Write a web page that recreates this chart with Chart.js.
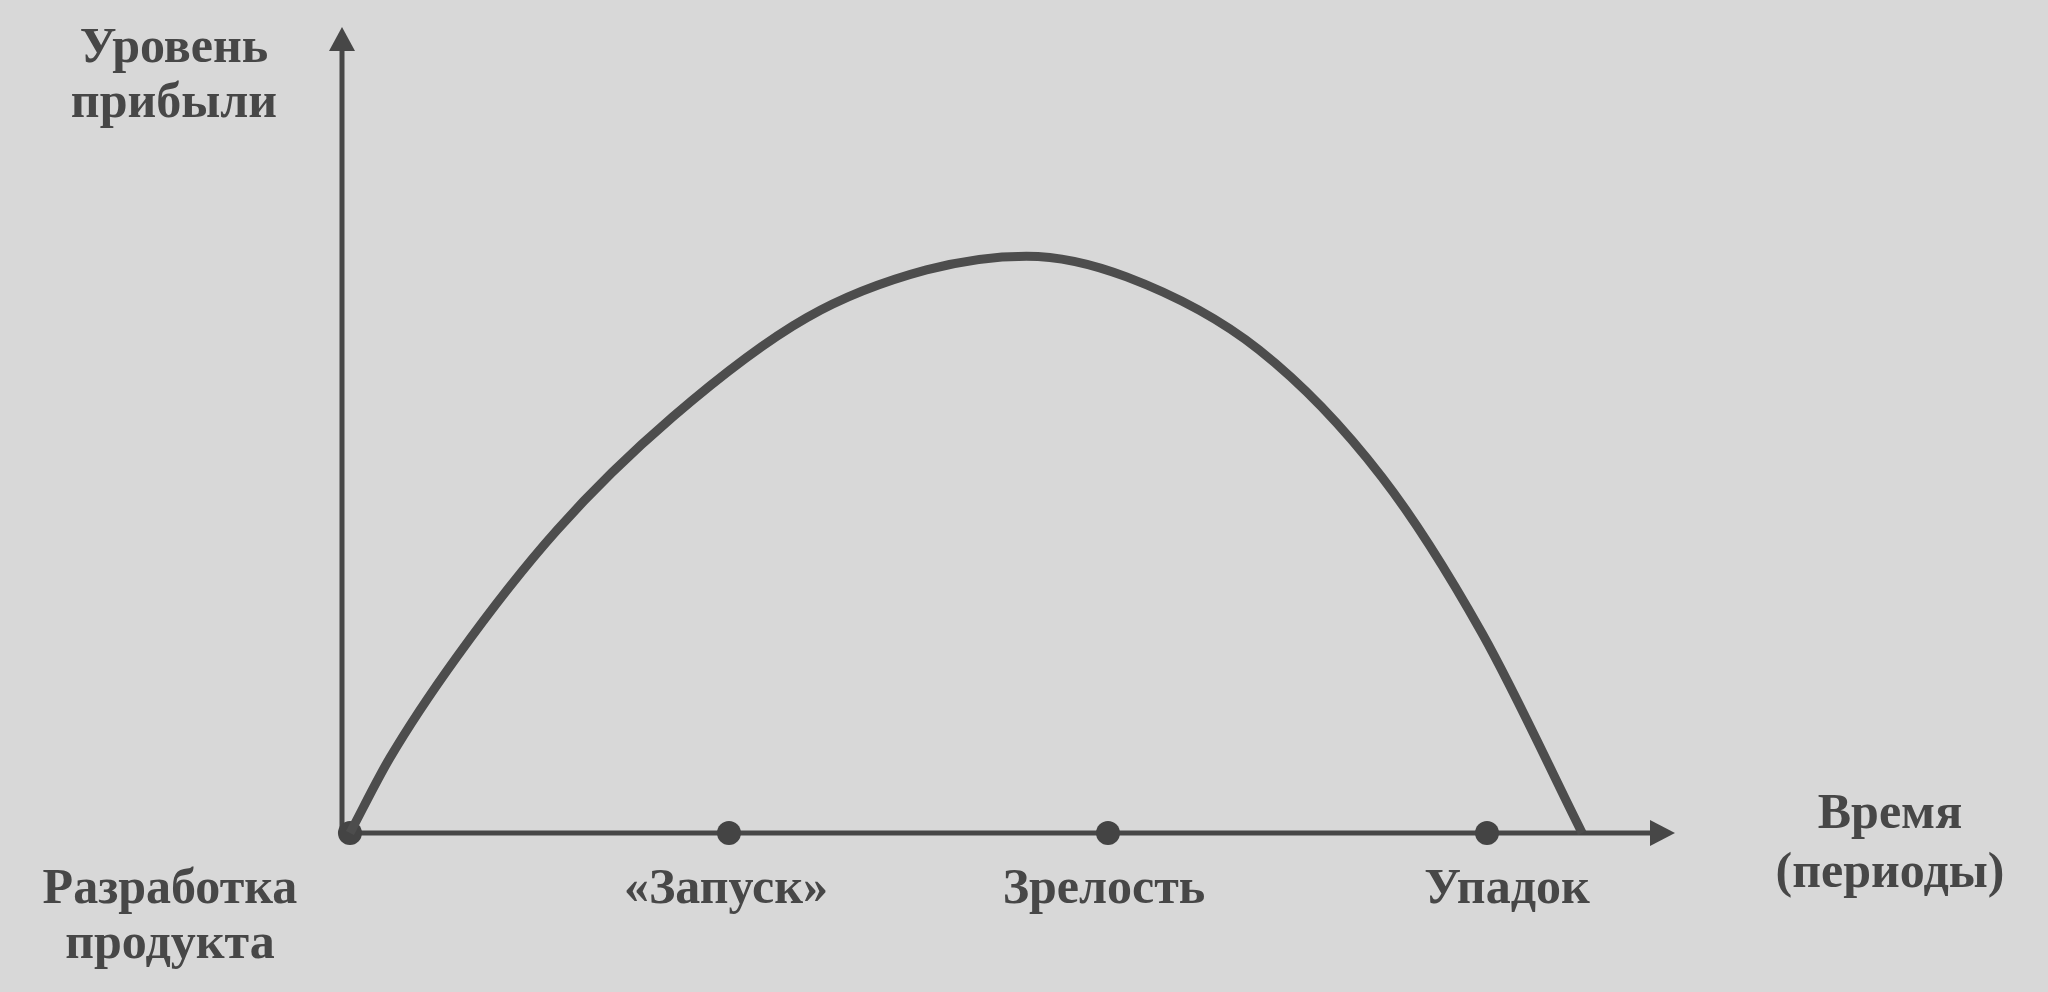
<!DOCTYPE html>
<html lang="ru">
<head>
  <meta charset="UTF-8" />
  <title>Жизненный цикл продукта</title>
  <style>
    body {
      margin: 0;
      background-color: #d8d8d8;
      overflow: hidden;
    }
    .wrap {
      width: 2048px;
      height: 992px;
      position: relative;
    }
  </style>
</head>
<body>
  <div class="wrap"><canvas id="lifeChart"></canvas></div>

  <script src="https://cdn.jsdelivr.net/npm/chart.js"></script>
  <script>
    // stages on the time axis (periods)
    const stageLabels = [["Разработка", "продукта"], ["«Запуск»"], ["Зрелость"], ["Упадок"]];
    const stageX = [0, 1, 2, 3];
    const stageY = [0, 0, 0, 0];

    // profit curve
    const curveX = [0, 0.105, 0.282, 0.546, 0.852, 1.205, 1.521, 1.785, 2.049, 2.399, 2.723, 2.987, 3.251];
    const curveY = [0, 13.0, 30.6, 52.6, 72.3, 89.5, 97.8, 100.2, 96.6, 83.9, 61.8, 34.7, 0];

    const yTitle = ["Уровень", "прибыли"];
    const xTitle = ["Время", "(периоды)"];

    const ink = "#474747";
    const font = 'bold 50px "Liberation Serif", "DejaVu Serif", serif';
    const labelShift = [-180, -3, -4, 20];

    const axesPlugin = {
      id: "axesArrows",
      beforeDatasetsDraw(chart) {
        const ctx = chart.ctx;
        const a = chart.chartArea;
        ctx.save();
        ctx.strokeStyle = ink;
        ctx.fillStyle = ink;
        ctx.lineWidth = 5;
        // y axis
        ctx.beginPath();
        ctx.moveTo(a.left, a.bottom);
        ctx.lineTo(a.left, a.top + 20);
        ctx.stroke();
        ctx.beginPath();
        ctx.moveTo(a.left, a.top);
        ctx.lineTo(a.left - 13, a.top + 24);
        ctx.lineTo(a.left + 13, a.top + 24);
        ctx.closePath();
        ctx.fill();
        // x axis
        ctx.beginPath();
        ctx.moveTo(a.left, a.bottom);
        ctx.lineTo(a.right - 20, a.bottom);
        ctx.stroke();
        ctx.beginPath();
        ctx.moveTo(a.right, a.bottom);
        ctx.lineTo(a.right - 25, a.bottom - 13);
        ctx.lineTo(a.right - 25, a.bottom + 13);
        ctx.closePath();
        ctx.fill();
        ctx.restore();
      },
      afterDraw(chart) {
        const ctx = chart.ctx;
        const a = chart.chartArea;
        const xs = chart.scales.x;
        ctx.save();
        ctx.fillStyle = ink;
        ctx.font = font;
        ctx.textAlign = "center";
        ctx.textBaseline = "alphabetic";
        stageLabels.forEach((lines, i) => {
          const px = xs.getPixelForValue(stageX[i]) + labelShift[i];
          lines.forEach((t, j) => ctx.fillText(t, px, a.bottom + 70 + j * 55));
        });
        yTitle.forEach((t, j) => ctx.fillText(t, a.left - 168, 62 + j * 55));
        xTitle.forEach((t, j) => ctx.fillText(t, a.right + 215, a.bottom - 5 + j * 59));
        ctx.restore();
      }
    };

    new Chart(document.getElementById("lifeChart"), {
      type: "scatter",
      data: {
        datasets: [
          {
            label: "Прибыль",
            data: curveX.map((x, i) => ({ x: x, y: curveY[i] })),
            showLine: true,
            borderColor: "#4d4d4d",
            borderWidth: 9,
            pointRadius: 0,
            cubicInterpolationMode: "monotone",
            clip: false
          },
          {
            label: "Этапы",
            data: stageX.map((x, i) => ({ x: x, y: stageY[i] })),
            pointRadius: 12,
            pointBackgroundColor: "#444444",
            pointBorderWidth: 0,
            clip: false
          }
        ]
      },
      options: {
        responsive: true,
        maintainAspectRatio: false,
        animation: false,
        layout: { padding: { left: 342, right: 373, top: 27, bottom: 159 } },
        plugins: { legend: { display: false }, tooltip: { enabled: false } },
        scales: {
          x: { type: "linear", display: false, min: -0.021, max: 3.496 },
          y: { type: "linear", display: false, min: 0, max: 140 }
        }
      },
      plugins: [axesPlugin]
    });
  </script>
</body>
</html>
